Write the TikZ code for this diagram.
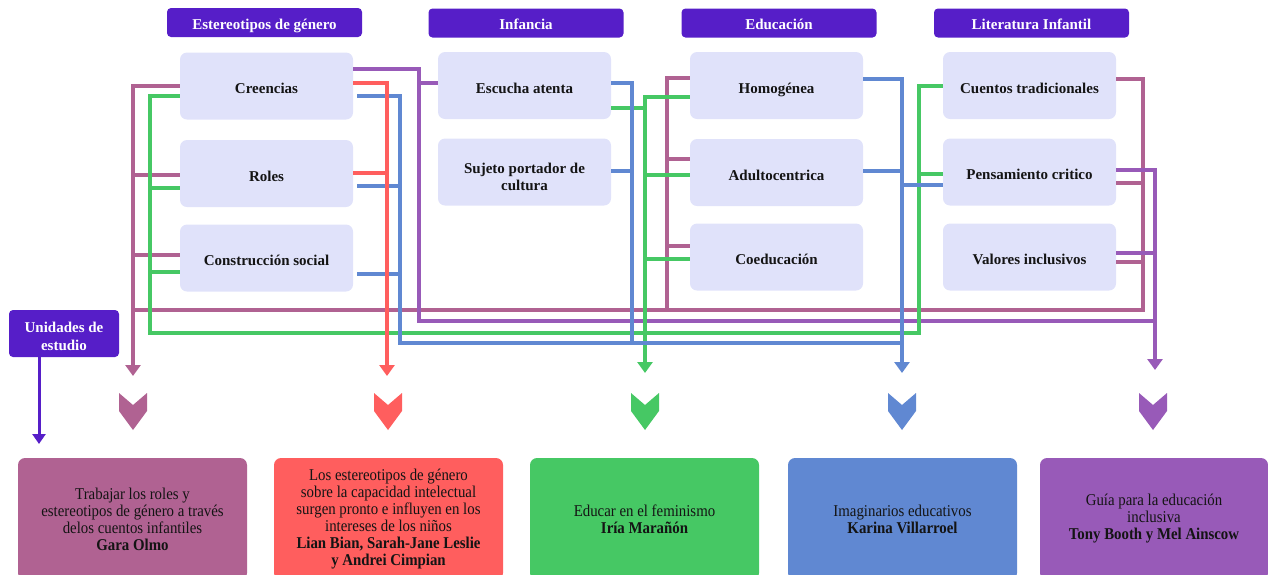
\documentclass[tikz,border=0pt]{standalone}
\usepackage{fontspec}
\setmainfont{Liberation Serif}
\newfontfamily\srcfont{Liberation Serif}[FakeStretch=0.9]
\usetikzlibrary{arrows.meta}
\definecolor{hdr}{RGB}{86,30,200}
\definecolor{lbox}{RGB}{224,226,250}
\definecolor{mv}{RGB}{176,98,146}
\definecolor{rd}{RGB}{255,94,94}
\definecolor{gr}{RGB}{70,200,100}
\definecolor{bl}{RGB}{96,136,210}
\definecolor{pu}{RGB}{152,90,184}
\definecolor{ink}{RGB}{20,20,20}
\begin{document}
\begin{tikzpicture}[x=1pt,y=-1pt,
 hdrbox/.style={fill=hdr, rounded corners=4pt, minimum width=195pt, minimum height=29pt, text=white, font=\fontsize{15}{17}\selectfont\bfseries, inner sep=0pt, text height=13.6pt, text depth=0pt},
 unibox/.style={fill=hdr, rounded corners=4pt, minimum width=110pt, minimum height=47pt, text=white, font=\fontsize{15}{18}\selectfont\bfseries, align=center, inner sep=0pt, text height=33pt, text depth=0pt},
 topic/.style={fill=lbox, rounded corners=7pt, minimum width=173pt, minimum height=67pt, text=ink, font=\fontsize{15}{16.5}\selectfont\bfseries, align=center, inner sep=0pt, text height=15pt, text depth=0pt},
 source/.style={rounded corners=7pt, minimum width=229pt, minimum height=122pt, text=ink, font=\srcfont\fontsize{16.5}{17}\selectfont, align=center, inner sep=0pt},
 link/.style={line width=3.4pt},
 tipped/.style={line width=3.4pt, -{Triangle[width=15pt,length=11pt]}},
 chev/.pic={\fill (-14,0)--(0,12)--(14,0)--(14,18)--(0,37)--(-14,18)--cycle;}
]
\useasboundingbox (0,0) rectangle (1268,574);
\clip (0,0) rectangle (1268,574);

% headers
\node[hdrbox] (h1) at (264.5,22.5) {Estereotipos de género};
\node[hdrbox] (h2) at (526,23) {Infancia};
\node[hdrbox] (h3) at (779,23) {Educación};
\node[hdrbox] (h4) at (1031.5,23) {Literatura Infantil};

% topic boxes
\node[topic] (cre) at (266.5,86) {Creencias};
\node[topic] (rol) at (266.5,173.5) {Roles};
\node[topic] (con) at (266.5,258) {Construcción social};
\node[topic] (esc) at (524.5,85.5) {Escucha atenta};
\node[topic, text height=36pt] (suj) at (524.5,172) {Sujeto portador de\\cultura};
\node[topic] (hom) at (776.5,85.5) {Homogénea};
\node[topic] (adu) at (776.5,172.5) {Adultocentrica};
\node[topic] (coe) at (776.5,257) {Coeducación};
\node[topic] (cue) at (1029.5,85.5) {Cuentos tradicionales};
\node[topic] (pen) at (1029.5,172) {Pensamiento critico};
\node[topic] (val) at (1029.5,257) {Valores inclusivos};

% mauve
\coordinate (mK) at (133,310); \coordinate (mTip) at (133,376);
\coordinate (mJ) at (667,310); \coordinate (mR) at (1143,310);
\draw[link,mv] (cre.west) -| (mK);
\draw[link,mv] ([yshift=-1.5pt]rol.west) -| (mK);
\draw[link,mv] ([yshift=3pt]con.west) -| (mK);
\draw[tipped,mv] (mK) -- (mTip);
\draw[link,mv] ([yshift=7.5pt]hom.west) -| (mJ);
\draw[link,mv] ([yshift=13.5pt]adu.west) -| (mJ);
\draw[link,mv] ([yshift=11pt]coe.west) -| (mJ);
\draw[link,mv] ([yshift=6.5pt]cue.east) -| (mR);
\draw[link,mv] ([yshift=-11pt]pen.east) -| (mR);
\draw[link,mv] ([yshift=-5pt]val.east) -| (mR) -- (mK);

% purple
\coordinate (pL) at (419,321); \coordinate (pK) at (1155,321); \coordinate (pTip) at (1155,370);
\draw[link,pu] ([yshift=17pt]cre.east) -| (pL) -- (pK);
\draw[link,pu] ([yshift=2.5pt]esc.west) -| (pL);
\draw[link,pu] ([yshift=2pt]pen.east) -| (pK);
\draw[link,pu] ([yshift=4pt]val.east) -| (pK);
\draw[tipped,pu] (pK) -- (pTip);

% green
\coordinate (gL) at (150,333); \coordinate (gR) at (919,333);
\coordinate (gK) at (645,333); \coordinate (gTip) at (645,373);
\draw[link,gr] ([yshift=-10pt]cre.west) -| (gL);
\draw[link,gr] ([yshift=-14.5pt]rol.west) -| (gL);
\draw[link,gr] ([yshift=-14pt]con.west) -| (gL) -- (gR) |- ([yshift=-2pt]pen.west);
\draw[link,gr] ([yshift=-0.5pt]cue.west) -| (gR);
\draw[link,gr] ([yshift=-22.5pt]esc.east) -| (gK);
\draw[link,gr] ([yshift=-11.5pt]hom.west) -| (gK);
\draw[link,gr] ([yshift=-2.5pt]adu.west) -| (gK);
\draw[link,gr] ([yshift=-2pt]coe.west) -| (gK);
\draw[tipped,gr] (gK) -- (gTip);

% blue
\coordinate (bL) at (400,343); \coordinate (bM) at (632,343);
\coordinate (bK) at (902,343); \coordinate (bTip) at (902,373);
\draw[link,bl] ([xshift=4pt,yshift=-10pt]cre.east) -| (bL);
\draw[link,bl] ([xshift=4pt,yshift=-12.5pt]rol.east) -| (bL);
\draw[link,bl] ([xshift=4pt,yshift=-16pt]con.east) -| (bL) -- (bK);
\draw[link,bl] ([yshift=2.5pt]esc.east) -| (bM);
\draw[link,bl] ([yshift=1pt]suj.east) -| (bM);
\draw[link,bl] ([yshift=6.5pt]hom.east) -| (bK);
\draw[link,bl] ([yshift=1.5pt]adu.east) -| (bK);
\draw[link,bl] ([yshift=-13pt]pen.west) -| (bK);
\draw[tipped,bl] (bK) -- (bTip);

% red
\coordinate (rK) at (387,300); \coordinate (rTip) at (387,376);
\draw[link,rd] ([yshift=3pt]cre.east) -| (rK);
\draw[link,rd] ([yshift=0.5pt]rol.east) -| (rK);
\draw[tipped,rd] (rK) -- (rTip);

% unidades de estudio
\node[unibox] (uni) at (64,333.5) {Unidades de\\estudio};
\coordinate (uTip) at (39,444);
\draw[hdr, line width=3pt, -{Triangle[width=13pt,length=10pt]}] (uni.south -| uTip) -- (uTip);

% chevrons
\foreach \x/\c in {133/mv,388/rd,645/gr,902/bl,1153/pu}
  \pic[color=\c] at (\x,393) {chev};

% sources
\node[source,fill=mv] (s1) at (132.5,519) {Trabajar los roles y\\estereotipos de género a través\\delos cuentos infantiles\\\textbf{Gara Olmo}};
\node[source,fill=rd] (s2) at (388.5,519) {Los estereotipos de género\\sobre la capacidad intelectual\\surgen pronto e influyen en los\\intereses de los niños\\\textbf{Lian Bian, Sarah-Jane Leslie}\\\textbf{y Andrei Cimpian}};
\node[source,fill=gr] (s3) at (644.5,519) {Educar en el feminismo\\\textbf{Iría Marañón}};
\node[source,fill=bl] (s4) at (902.5,519) {Imaginarios educativos\\\textbf{Karina Villarroel}};
\node[source,fill=pu,minimum width=228pt] (s5) at (1154,519) {Guía para la educación\\inclusiva\\\textbf{Tony Booth y Mel Ainscow}};
\end{tikzpicture}
\end{document}
